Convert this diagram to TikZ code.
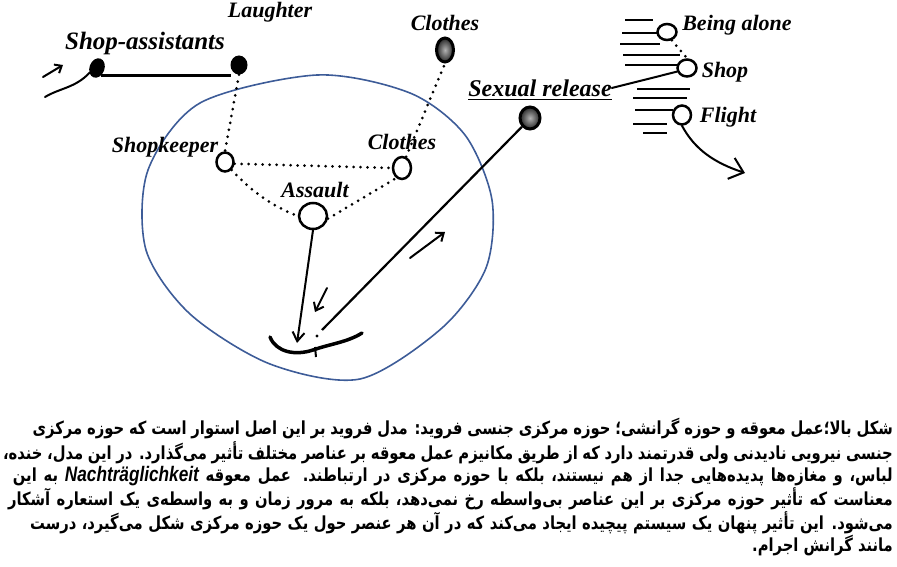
\documentclass[tikz,border=0pt]{standalone}
\usepackage{fontspec}
\usepackage{xcolor}
\usetikzlibrary{arrows.meta,shapes.geometric}

\TeXXeTstate=1
\newfontfamily\handfont{Liberation Serif}
\newfontfamily\arabicfont[Script=Arabic]{DejaVu Sans}
\newfontfamily\latinfont{Liberation Sans}
\definecolor{ringblue}{HTML}{3D5C98}
% one caption line, in a box of given width
\newcommand{\capline}[2]{\scalebox{0.82}[1]{\hbox to #1{#2}}}

\begin{document}
\begin{tikzpicture}[x=1pt, y=-1pt,
  handtext/.style={font=\handfont\bfseries\itshape\fontsize{22}{24}\selectfont, inner sep=0pt},
  blackdot/.style={ellipse, fill=black, inner sep=0pt},
  greydot/.style={ellipse, draw=black, line width=3pt, inner sep=0pt, inner color=gray!60, outer color=black!85},
  ringdot/.style={ellipse, draw=black, line width=2.5pt, fill=white, inner sep=0pt},
  dotline/.style={line width=3pt, line cap=round, dash pattern=on 0pt off 7pt},
  inkline/.style={line width=2pt, line cap=round},
  caption/.style={anchor=east, inner sep=0pt, font=\arabicfont\bfseries\fontsize{18}{20}\selectfont}]

  \useasboundingbox (0,0) rectangle (897,567);

  % the central field
  \draw[ringblue, line width=1.6pt] plot[smooth cycle] coordinates {(317,75) (410,93) (465,135) (492,200) (486,268) (442,328) (360,379) (270,364) (190,314) (146,250) (148,170) (200,103)};

  % dots and rings
  \node[blackdot, minimum width=15pt, minimum height=20pt, rotate=-20] (shopdot) at (97,68) {};
  \node[blackdot, minimum width=17pt, minimum height=19pt] (laughdot) at (239,65) {};
  \node[greydot, minimum width=17pt, minimum height=24pt] (clothesdot) at (445,50) {};
  \node[greydot, minimum width=20pt, minimum height=22pt] (releasedot) at (530,118) {};
  \node[ringdot, minimum width=17pt, minimum height=19pt] (shopkeeper) at (225,162) {};
  \node[ringdot, minimum width=18pt, minimum height=22pt] (clothes) at (402,168) {};
  \node[ringdot, minimum width=28pt, minimum height=26pt] (assault) at (313,216) {};
  \node[ringdot, minimum width=19pt, minimum height=16pt] (alone) at (667,32) {};
  \node[ringdot, minimum width=19pt, minimum height=17pt] (shop) at (687,68) {};
  \node[ringdot, minimum width=18pt, minimum height=19pt] (flight) at (682,115) {};

  % labels
  \node[handtext] (laughtertext) at (270,12) {Laughter};
  \node[handtext, font=\handfont\bfseries\itshape\fontsize{25}{26}\selectfont] (assisttext) at (145,43) {Shop-assistants};
  \node[handtext] (keepertext) at (165,147) {Shopkeeper};
  \node[handtext] (clothestext) at (402,142) {Clothes};
  \node[handtext] (assaulttext) at (315,190) {Assault};
  \node[handtext] (clothesouttext) at (445,23) {Clothes};
  \node[handtext, font=\handfont\bfseries\itshape\fontsize{24}{26}\selectfont] (releasetext) at (540,88) {Sexual release};
  \node[handtext] (alonetext) at (737,25) {Being alone};
  \node[handtext] (shoptext) at (725,72) {Shop};
  \node[handtext] (flighttext) at (728,117) {Flight};

  % free ends
  \coordinate (wavestart) at (45,97);
  \coordinate (tickfrom) at (43,77);
  \coordinate (tickto) at (63,65);
  \coordinate (bowltip) at (297,343);
  \coordinate (releaseend) at (322,330);
  \coordinate (downfrom) at (327,288);
  \coordinate (downto) at (315,312);
  \coordinate (upfrom) at (410,258);
  \coordinate (upto) at (445,232);
  \coordinate (flightend) at (745,173);

  % solid strokes
  \draw[inkline] (wavestart) .. controls (60,88) and (75,88) .. (shopdot.south west);
  \draw[inkline, -{Straight Barb[length=6pt,width=10pt]}] (tickfrom) -- (tickto);
  \draw[line width=2.5pt] (shopdot.-40) -- (shopdot.-40 -| laughdot.-150);
  \draw[inkline, -{Straight Barb[length=9pt,width=12pt]}] (assault.south) -- (bowltip);
  \draw[inkline, -{Straight Barb[length=7pt,width=11pt]}] (downfrom) -- (downto);
  \draw[inkline, -{Straight Barb[length=7pt,width=11pt]}] (upfrom) -- (upto);
  \draw[line width=2.2pt] (releasedot.south west) -- (releaseend);
  \fill (317,336) circle (1.6pt);
  \draw[line width=3.5pt, line cap=round] (270,337) .. controls (276,352) and (295,356) .. (313,350) .. controls (330,344) and (348,342) .. (362,333);
  \draw[line width=2pt] (315,347) -- (316,357);
  \draw[line width=1.5pt] ([yshift=-3pt]releasetext.south west) -- ([yshift=-3pt]releasetext.south east);
  \draw[inkline] (releasetext.east) -- (shop.200);
  \draw[inkline, -{Straight Barb[length=13pt,width=22pt]}] (flight.south) .. controls (695,150) and (715,163) .. (flightend);

  % dotted links
  \draw[dotline] (laughdot.south) -- (shopkeeper.north);
  \draw[dotline] (shopkeeper.-10) -- (clothes.west);
  \draw[dotline] (shopkeeper.-50) .. controls (252,192) and (272,206) .. (assault.west);
  \draw[dotline] (assault.-10) -- (clothes.-120);
  \draw[dotline] (clothes.70) -- (clothesdot.south);
  \draw[dotline] (alone.-60) -- (shop.north);

  % hatching beside the exits
  \foreach \ya/\xa/\xb in {20/625/653, 33/622/657, 44/620/660, 55/623/680, 65/625/677, 89/637/690, 98/633/687, 110/635/673, 124/633/667, 133/643/667}
    \draw[line width=2.2pt] (\xa,\ya) -- (\xb,\ya);

  % caption
  \node[caption] (cap1) at (893,429) {\capline{1049pt}{\beginR شکل بالا؛عمل معوقه و حوزه گرانشی؛ حوزه مرکزی جنسی فروید: مدل فروید بر این اصل استوار است که حوزه مرکزی\endR}};
  \node[caption] (cap2) at (893,452.4) {\capline{1085pt}{\beginR جنسی نیرویی نادیدنی ولی قدرتمند دارد که از طریق مکانیزم عمل معوقه بر عناصر مختلف تأثیر می‌گذارد. در این مدل، خنده،\endR}};
  \node[caption] (cap3) at (893,475.8) {\capline{1073pt}{\beginR لباس، و مغازه‌ها پدیده‌هایی جدا از هم نیستند، بلکه با حوزه مرکزی در ارتباطند. عمل معوقه \beginL{\latinfont\bfseries\itshape\fontsize{21}{21}\selectfont Nachträglichkeit}\endL{} به این\endR}};
  \node[caption] (cap4) at (893,499.2) {\capline{1079pt}{\beginR معناست که تأثیر حوزه مرکزی بر این عناصر بی‌واسطه رخ نمی‌دهد، بلکه به مرور زمان و به واسطه‌ی یک استعاره آشکار\endR}};
  \node[caption] (cap5) at (893,522.6) {\capline{1052pt}{\beginR می‌شود. این تأثیر پنهان یک سیستم پیچیده ایجاد می‌کند که در آن هر عنصر حول یک حوزه مرکزی شکل می‌گیرد، درست\endR}};
  \node[caption] (cap6) at (893,546) {\scalebox{0.82}[1]{\beginR مانند گرانش اجرام.\endR}};
\end{tikzpicture}
\end{document}
